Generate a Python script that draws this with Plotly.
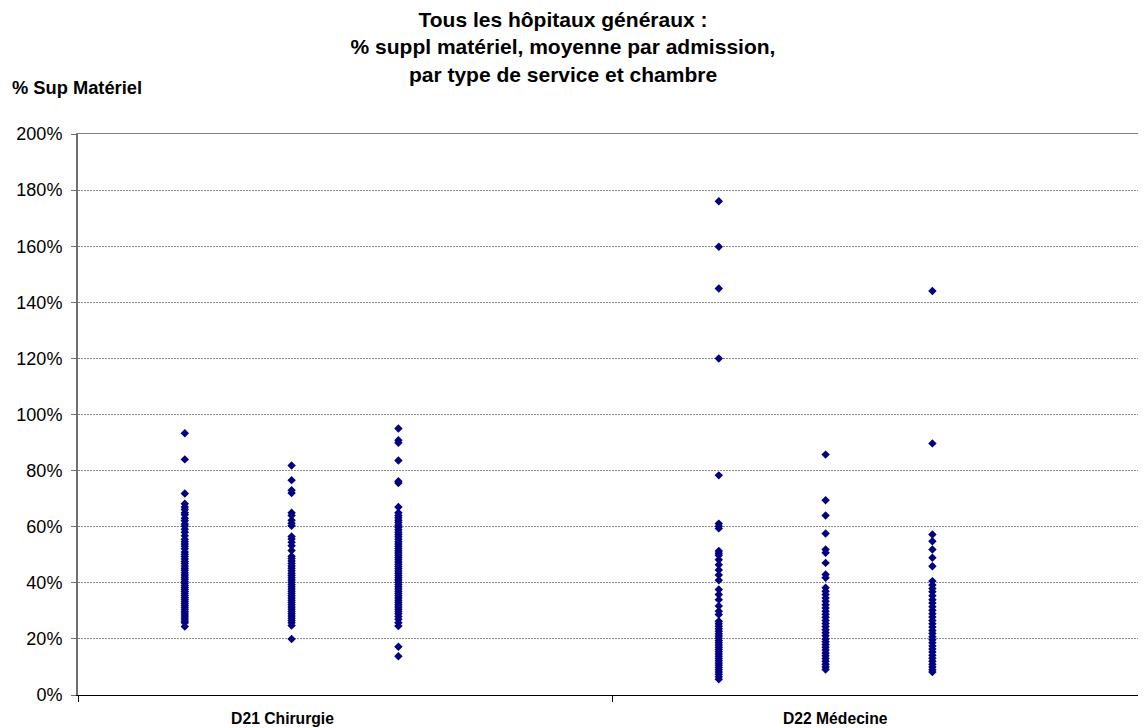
import plotly.graph_objects as go

# ---- data (in %) ----
categories = ["D21 Chirurgie", "D22 Médecine"]
category_label_pos = [0.383, 1.418]

d21_s1 = [93.3, 84.0, 71.8, 68.2, 67.0, 66.1, 65.0, 64.3, 63.0, 62.1, 61.0, 60.2, 59.1,
          58.0, 56.8, 55.5, 54.6, 53.8, 53.0, 52.1, 51.0, 50.2, 49.4, 48.5, 47.6, 46.9,
          46.0, 45.2, 44.5, 43.6, 42.8, 42.0, 41.3, 40.5, 39.8, 39.0, 38.3, 37.6, 36.9,
          36.2, 35.5, 34.8, 34.1, 33.4, 32.7, 32.0, 31.3, 30.6, 29.9, 29.2, 28.5, 27.8,
          27.1, 26.4, 25.8, 24.4]
d21_s2 = [81.8, 76.6, 73.0, 72.0, 65.0, 64.0, 62.3, 61.2, 60.3, 56.5, 55.6, 54.5, 53.2,
          51.5, 49.5, 48.7, 47.8, 46.9, 46.0, 45.2, 44.3, 43.4, 42.6, 41.8, 41.0, 40.2,
          39.4, 38.6, 37.8, 37.0, 36.2, 35.4, 34.6, 33.8, 33.0, 32.2, 31.4, 30.6, 29.8,
          29.0, 28.2, 27.4, 26.6, 25.8, 24.8, 20.0]
d21_s3 = [95.0, 90.8, 89.9, 83.6, 76.2, 75.6, 67.0, 65.0, 64.0, 63.2, 62.3, 61.5, 60.6,
          59.8, 58.9, 58.0, 57.2, 56.4, 55.5, 54.6, 53.8, 53.0, 52.2, 51.4, 50.6, 49.8,
          49.0, 48.2, 47.4, 46.6, 45.8, 45.0, 44.2, 43.4, 42.6, 41.8, 41.0, 40.2, 39.4,
          38.6, 37.8, 37.0, 36.2, 35.4, 34.6, 33.8, 33.0, 32.2, 31.4, 30.6, 29.8, 29.0,
          28.0, 27.0, 25.8, 24.6, 17.2, 13.8]
d22_s1 = [176.0, 159.8, 144.9, 120.0, 78.3, 61.1, 60.2, 59.4, 51.3, 50.5, 49.8, 48.2,
          46.4, 44.6, 42.8, 40.9, 37.6, 35.8, 34.0, 31.7, 29.9, 28.7, 26.3, 25.4, 24.5,
          23.6, 22.7, 21.8, 21.0, 20.2, 19.4, 18.6, 17.8, 17.0, 16.2, 15.4, 14.6, 13.8,
          13.0, 12.2, 11.4, 10.6, 9.8, 9.0, 8.2, 7.4, 6.5, 5.6]
d22_s2 = [85.7, 69.4, 64.0, 57.6, 51.9, 50.7, 47.1, 43.0, 41.8, 38.2, 37.0, 35.8, 34.6,
          33.4, 32.2, 31.0, 29.9, 28.8, 27.7, 26.6, 25.5, 24.4, 23.3, 22.2, 21.1, 20.0,
          19.0, 18.0, 17.0, 16.0, 15.0, 14.0, 13.0, 12.0, 11.0, 10.0, 9.1]
d22_s3 = [144.0, 89.7, 57.2, 54.8, 51.9, 48.9, 45.9, 40.6, 39.2, 38.0, 36.8, 35.4, 34.0,
          32.8, 31.5, 30.2, 29.0, 27.8, 26.6, 25.4, 24.2, 23.0, 21.9, 20.8, 19.7, 18.6,
          17.5, 16.4, 15.3, 14.2, 13.1, 12.0, 11.0, 10.0, 9.0, 8.2]

series_by_category = [[d21_s1, d21_s2, d21_s3], [d22_s1, d22_s2, d22_s3]]

y_ticks = [0, 20, 40, 60, 80, 100, 120, 140, 160, 180, 200]
y_ticktext = [f"{v}%" for v in y_ticks]

# ---- figure (page body has an 8px margin, so the figure is 8px smaller) ----
W, H = 1138, 720
FONT = "Liberation Sans, Arial, sans-serif"
axis_for_series = ["x", "x2", "x3"]   # overlaid axes sharing the same range
fig = go.Figure()
for ci, group in enumerate(series_by_category):
    for si, vals in enumerate(group):
        xpos = ci + (si + 1) * 0.2
        fig.add_trace(go.Scatter(
            x=[xpos] * len(vals), y=vals, mode="markers",
            marker=dict(symbol="diamond", size=6.5, color="#000080", line=dict(width=0)),
            showlegend=False, hoverinfo="y", xaxis=axis_for_series[si], yaxis="y",
        ))

fig.update_layout(
    width=W, height=H,
    margin=dict(l=70, r=0, t=126, b=33),
    paper_bgcolor="white", plot_bgcolor="white",
    font=dict(family=FONT, color="black"),
    title=dict(
        text="Tous les hôpitaux généraux :<br>% suppl matériel, moyenne par admission,<br>par type de service et chambre",
        x=555 / W, xanchor="center", xref="container",
        y=1 - 19 / H, yanchor="top", yref="container",
        font=dict(family=FONT, size=21, weight="bold", color="black"),
    ),
    xaxis=dict(
        range=[0, 2], showgrid=False, zeroline=False,
        showline=True, linecolor="black", linewidth=1,
        tickvals=[0, 1], ticks="outside", ticklen=6, tickcolor="black",
        showticklabels=False,
    ),
    xaxis2=dict(
        range=[0, 2], overlaying="x", anchor="y", side="bottom",
        showgrid=False, zeroline=False, showline=False, ticks="",
        tickvals=category_label_pos, ticktext=categories,
        tickfont=dict(family=FONT, size=15.7, weight="bold", color="black"),
        ticklabelstandoff=12,
    ),
    xaxis3=dict(
        range=[0, 2], overlaying="x", anchor="y", side="top",
        showgrid=False, zeroline=False, showline=True, linecolor="#808080",
        linewidth=1, ticks="", showticklabels=False,
    ),
    yaxis=dict(
        range=[0, 200], tickvals=y_ticks, ticktext=y_ticktext,
        showgrid=True, gridcolor="#8a8a8a", gridwidth=1, griddash="2px,1px",
        zeroline=False, showline=True, linecolor="#707070", linewidth=2,
        ticks="outside", ticklen=5, tickcolor="#707070",
        tickfont=dict(family=FONT, size=18, color="black"),
        ticklabelstandoff=5,
    ),
    annotations=[dict(
        text="% Sup Matériel", xref="paper", yref="paper",
        x=(10 - 78) / 1068, xanchor="left", y=(695 - 88) / 561, yanchor="middle",
        showarrow=False, font=dict(family=FONT, size=18.3, weight="bold", color="black"),
    )],
)

fig.write_html("out.html")
